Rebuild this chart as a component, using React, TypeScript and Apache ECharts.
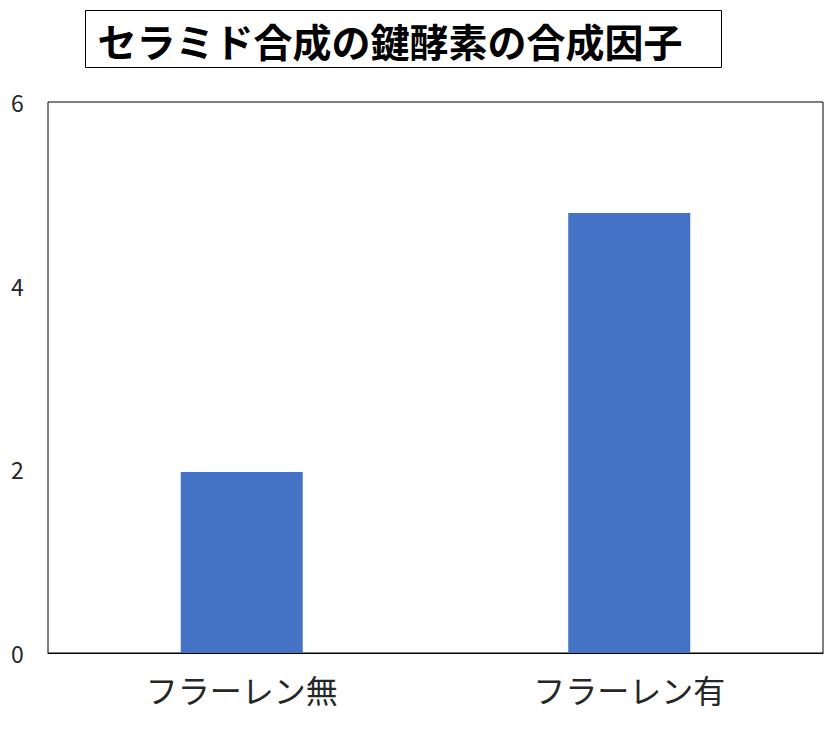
import { useEffect, useRef } from 'react';
import * as echarts from 'echarts';

const categories = ['フラーレン無', 'フラーレン有'];
const values = [1.97, 4.79];
const yTicks = [0, 2, 4, 6];
const titleText = 'セラミド合成の鍵酵素の合成因子';

export default function App() {
  const chartRef = useRef<HTMLDivElement>(null);

  useEffect(() => {
    if (!chartRef.current) return;
    const chart = echarts.init(chartRef.current, undefined, { renderer: 'svg' });

    const option: echarts.EChartsOption = {
      animation: false,
      backgroundColor: '#ffffff',
      textStyle: { fontFamily: '"Noto Sans CJK JP", "Noto Sans", sans-serif' },
      graphic: [
        {
          type: 'group',
          left: 77,
          top: 2,
          children: [
            {
              type: 'rect',
              shape: { x: 0, y: 0, width: 636, height: 57 },
              style: { fill: '#fff', stroke: '#000', lineWidth: 1 },
            },
            {
              type: 'text',
              x: 12,
              y: 29,
              style: {
                text: titleText,
                fill: '#000',
                font: 'bold 39px "Noto Sans CJK JP", sans-serif',
                textVerticalAlign: 'middle',
              },
            },
          ],
        },
      ],
      grid: {
        left: 37,
        right: 9,
        top: 94,
        bottom: 73,
        show: true,
        borderColor: '#000',
        borderWidth: 1,
        containLabel: false,
      },
      xAxis: {
        type: 'category',
        data: categories,
        axisLine: { lineStyle: { color: '#000', width: 1 } },
        axisTick: { show: false },
        axisLabel: { color: '#262626', fontSize: 32, margin: 20 },
      },
      yAxis: {
        type: 'value',
        min: yTicks[0],
        max: yTicks[yTicks.length - 1],
        interval: 2,
        splitLine: { show: false },
        axisLine: { show: false },
        axisTick: { show: false },
        axisLabel: {
          color: '#262626',
          fontSize: 23,
          align: 'left',
          margin: 37,
          fontFamily: '"Noto Sans CJK JP", sans-serif',
        },
      },
      series: [
        {
          type: 'bar',
          data: values,
          barWidth: 122,
          itemStyle: { color: '#4472C4' },
        },
      ],
    };

    chart.setOption(option);
    return () => chart.dispose();
  }, []);

  return <div ref={chartRef} style={{ width: 824, height: 718 }} />;
}
